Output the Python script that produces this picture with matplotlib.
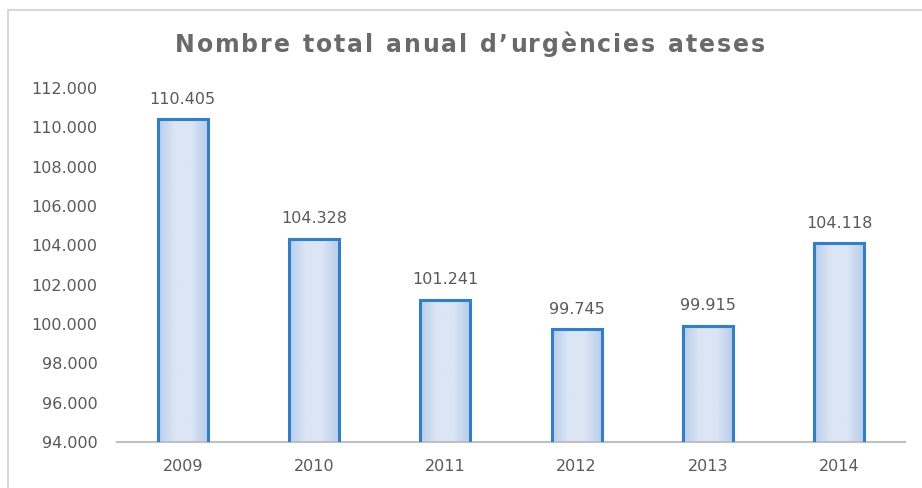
import numpy as np
import matplotlib.pyplot as plt
from matplotlib.patches import Rectangle
from matplotlib.ticker import FuncFormatter
from matplotlib.colors import LinearSegmentedColormap

# DATA
years = ["2009", "2010", "2011", "2012", "2013", "2014"]
urgencies = [110405, 104328, 101241, 99745, 99915, 104118]
y_ticks = [94000, 96000, 98000, 100000, 102000, 104000, 106000, 108000, 110000, 112000]
title = "Nombre total anual d\u2019urgències ateses"

TEXT_GRAY = "#595959"


def dot_thousands(v, pos=None):
    return f"{int(round(v)):,}".replace(",", ".")


fig = plt.figure(figsize=(9.22, 4.88), dpi=100)
fig.patch.set_facecolor("white")

# outer chart frame (cut off at right and bottom like the source)
fig.patches.append(Rectangle((8 / 922, -0.05), 1.2, 1 - 10 / 488 + 0.05,
                             transform=fig.transFigure, fill=False,
                             edgecolor="#d0d0d0", linewidth=1.2))

ax = fig.add_axes([117 / 922, 1 - 442 / 488, (905 - 117) / 922, (442 - 88) / 488])
x = range(len(years))
bars = ax.bar(x, urgencies, width=0.38, color="#d6e1f2", edgecolor="#2f7fcf",
              linewidth=2.2, zorder=3)

ax.set_ylim(94000, 112000)
ax.set_xlim(-0.5, len(years) - 0.5)

# soft horizontal gradient inside each bar (darker at the sides)
grad_cmap = LinearSegmentedColormap.from_list("g", ["#b9cdea", "#dbe5f4", "#dbe5f4", "#b9cdea"])
grad = np.linspace(0, 1, 64).reshape(1, -1)
for b in bars:
    im = ax.imshow(grad, cmap=grad_cmap, aspect="auto", zorder=2,
                   extent=(b.get_x(), b.get_x() + b.get_width(), 94000, b.get_height()))
    im.set_clip_path(b)
    b.set_facecolor("none")

ax.set_yticks(y_ticks)
ax.yaxis.set_major_formatter(FuncFormatter(dot_thousands))
ax.set_xticks(list(x))
ax.set_xticklabels(years)

for b, v in zip(bars, urgencies):
    ax.annotate(dot_thousands(v), (b.get_x() + b.get_width() / 2, v),
                xytext=(0, 9), textcoords="offset points", ha="center", va="bottom",
                fontsize=11.5, color=TEXT_GRAY)

for side in ["top", "right", "left"]:
    ax.spines[side].set_visible(False)
ax.spines["bottom"].set_color("#bfbfbf")
ax.spines["bottom"].set_linewidth(1.5)
ax.tick_params(axis="both", length=0, labelsize=11.5, labelcolor=TEXT_GRAY)
ax.tick_params(axis="y", pad=14)
ax.tick_params(axis="x", pad=12)

# letter-spaced title: place characters one by one with extra tracking
title_family = ["Liberation Sans Narrow", "DejaVu Sans"]
title_kw = dict(fontsize=17, color="#6a6a6a", fontweight="bold", family=title_family,
                va="center", ha="left")
renderer = fig.canvas.get_renderer()
chars = []
for ch in title:
    t = fig.text(0, 0, ch, **title_kw)
    w = t.get_window_extent(renderer).width if ch != " " else None
    chars.append((t, w))
space_w = fig.text(0, 0, "n", **title_kw).get_window_extent(renderer).width * 0.55
fig.texts.pop()
widths = [w if w is not None else space_w for _, w in chars]
target_left, target_right = 175, 765
gap = (target_right - target_left - sum(widths)) / (len(title) - 1)
xpos = target_left
for (t, _), w in zip(chars, widths):
    t.set_position((xpos / 922, 1 - 45 / 488))
    xpos += w + gap

plt.savefig("out.png", dpi=100)
